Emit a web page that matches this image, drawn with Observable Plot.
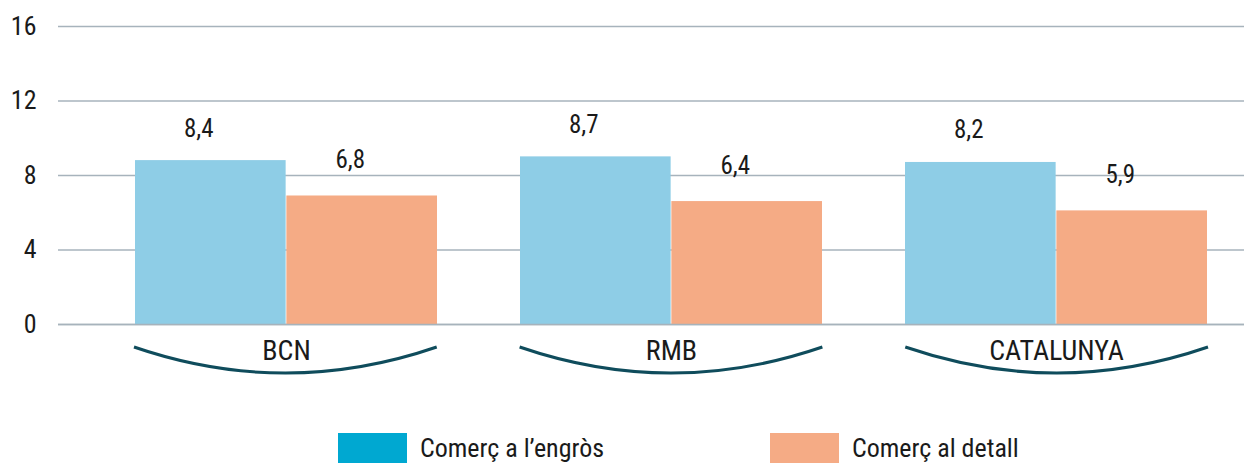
<!DOCTYPE html>
<html>
<head>
<meta charset="utf-8">
<script src="https://cdn.jsdelivr.net/npm/d3@7"></script>
<script src="https://cdn.jsdelivr.net/npm/@observablehq/plot@0.6"></script>
<style>
  html, body { margin: 0; padding: 0; background: #fff; }
  body { width: 1244px; height: 463px; overflow: hidden; font-family: "Liberation Sans Narrow", "Roboto Condensed", "DejaVu Sans Condensed", sans-serif; font-stretch: condensed; color: #1a1a1a; }
  #legend { position: relative; height: 38px; }
  .item { position: absolute; top: 8px; display: flex; align-items: center; font-size: 26px; }
  .sw { width: 69px; height: 30px; margin-right: 13px; }
</style>
</head>
<body>
<div id="chart"></div>
<div id="legend"></div>
<script>
const regions = ["BCN", "RMB", "CATALUNYA"];
const series = ["Comerç a l’engròs", "Comerç al detall"];
const wholesale = [8.8, 9.0, 8.7];
const retail = [6.9, 6.6, 6.1];
const wholesaleLabels = ["8,4", "8,7", "8,2"];
const retailLabels = ["6,8", "6,4", "5,9"];
const yTicks = [0, 4, 8, 12, 16];

const barColors = ["#8ecde6", "#f5ab85"];
const legendColors = ["#00a8d1", "#f5ab85"];

const data = regions.flatMap((r, i) => [
  {region: r, series: series[0], value: wholesale[i], label: wholesaleLabels[i]},
  {region: r, series: series[1], value: retail[i], label: retailLabels[i]}
]);
const W = data.filter(d => d.series === series[0]);
const R = data.filter(d => d.series === series[1]);

const xRange = [134, 1208];
const padIn = 0.215;
const band = d3.scaleBand().domain(regions).range(xRange).paddingInner(padIn).paddingOuter(0);
const bw = band.bandwidth();
const font = '"Liberation Sans Narrow", "Roboto Condensed", "DejaVu Sans Condensed", sans-serif';

const braces = (index, scales) => {
  const y0 = scales.y(0);
  const g = d3.create("svg:g").attr("fill", "none").attr("stroke", "#0f4c5c").attr("stroke-width", 3);
  for (const r of regions) {
    const a = band(r), b = a + bw, m = (a + b) / 2;
    g.append("path").attr("d", `M${a},${y0 + 23}Q${m},${y0 + 75} ${b},${y0 + 23}`);
  }
  return g.node();
};

const chart = Plot.plot({
  width: 1244,
  height: 425,
  marginTop: 26,
  marginBottom: 101,
  marginLeft: 58,
  marginRight: 0,
  style: {fontFamily: font, color: "#1a1a1a", background: "#fff"},
  x: {domain: regions, range: xRange, paddingInner: padIn, paddingOuter: 0, axis: null},
  y: {domain: [0, 16], axis: null},
  marks: [
    Plot.gridY(yTicks, {stroke: "#a7b3bc", strokeOpacity: 1, strokeWidth: 1.5}),
    Plot.axisY({ticks: yTicks, tickSize: 0, tickPadding: 22, fontSize: 26, tickFormat: d => String(d), fill: "#1a1a1a", label: null}),
    Plot.barY(W, {x: "region", y: "value", fill: barColors[0], insetLeft: 0, insetRight: bw / 2}),
    Plot.barY(R, {x: "region", y: "value", fill: barColors[1], insetLeft: bw / 2, insetRight: 0}),
    Plot.ruleY([0], {stroke: "#a7b3bc", strokeWidth: 1.5}),
    Plot.text(W, {x: "region", y: "value", text: "label", dx: -bw / 4 - 12, dy: -32, fontSize: 25, fill: "#1a1a1a", lineAnchor: "middle"}),
    Plot.text(R, {x: "region", y: "value", text: "label", dx: bw / 4 - 12, dy: -36, fontSize: 25, fill: "#1a1a1a", lineAnchor: "middle"}),
    Plot.text(regions, {x: d => d, y: 0, text: d => d, dy: 27, fontSize: 28, fill: "#1a1a1a", lineAnchor: "middle"}),
    braces
  ]
});
document.getElementById("chart").appendChild(chart);

const legend = document.getElementById("legend");
const legendX = [338, 770];
series.forEach((s, i) => {
  const it = document.createElement("div");
  it.className = "item";
  it.style.left = legendX[i] + "px";
  const sw = document.createElement("div");
  sw.className = "sw";
  sw.style.background = legendColors[i];
  const t = document.createElement("span");
  t.textContent = s;
  it.appendChild(sw);
  it.appendChild(t);
  legend.appendChild(it);
});
</script>
</body>
</html>
